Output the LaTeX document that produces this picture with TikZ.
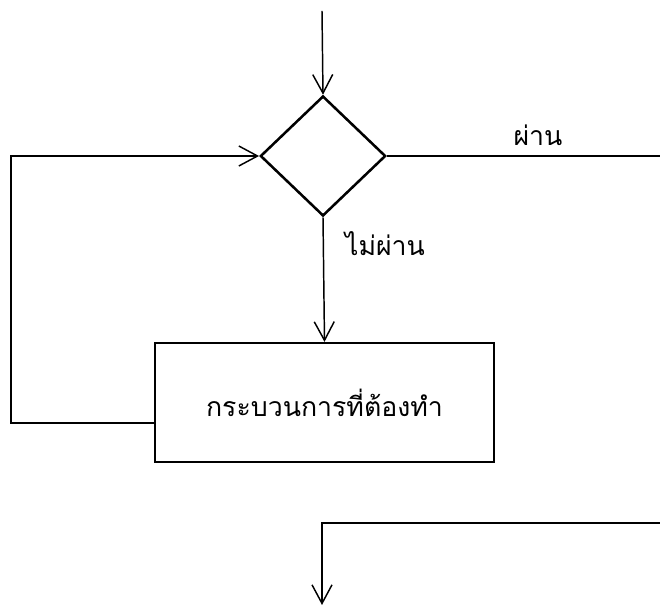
\documentclass[tikz,border=0pt]{standalone}
\usepackage{fontspec}
\newfontfamily\thaifont[Script=Thai]{Loma}
\usetikzlibrary{shapes.geometric,arrows.meta}
\begin{document}
\begin{tikzpicture}[x=0.75pt,y=-0.75pt,
  conn/.style={line width=1.1pt,-{Straight Barb[length=14pt,width=15pt,line width=1.1pt]}},
  plain/.style={line width=1.1pt},
  shapeline/.style={draw,line width=1.9pt},
  decision/.style={shapeline,diamond,inner sep=0pt,minimum width=94pt,minimum height=90pt},
  process/.style={shapeline,rectangle,inner sep=0pt,minimum width=254pt,minimum height=89pt,font=\thaifont\fontsize{20}{24}\selectfont},
  lbl/.style={font=\thaifont\fontsize{20}{24}\selectfont,inner sep=0pt}]
\useasboundingbox (0,0) rectangle (660,605);
\coordinate (start) at (322,11);
\node[decision] (d) at (323,156) {};
\coordinate (yesend) at (660,156);
\node[process] (p) at (324.5,402.5) {\raisebox{-6pt}{กระบวนการที่ต้องทำ}};
\coordinate (pout) at (155,423);
\coordinate (loopx) at (11,300);
\coordinate (bin) at (660,523);
\coordinate (bcorner) at (322,523);
\coordinate (bend) at (322,605);
\node[lbl] (yes) at (538,135) {ผ่าน};
\node[lbl] (no) at (385,244) {ไม่ผ่าน};
\draw[conn] (start) -- (d.north);
\draw[plain] (d.east) -- (yesend);
\draw[conn] (d.south) -- (p.north);
\draw[conn] (pout) -- (pout -| loopx) |- (d.west);
\draw[conn] (bin) -- (bcorner) -- (bend);
\end{tikzpicture}
\end{document}
